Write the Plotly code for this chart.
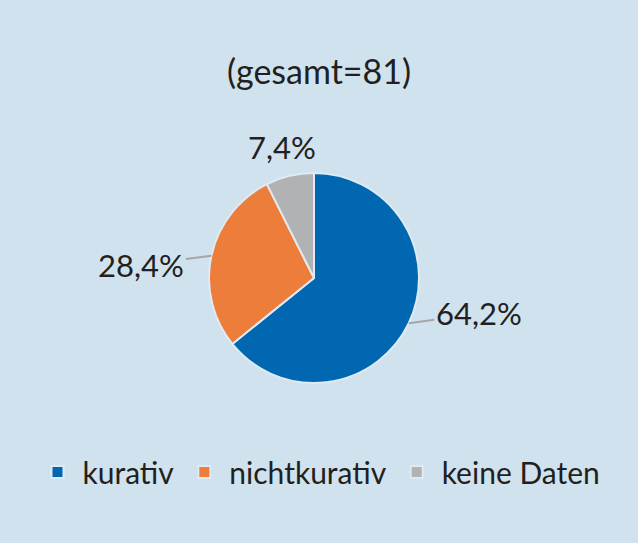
import math
import plotly.graph_objects as go

# Daten
labels = ["kurativ", "nichtkurativ", "keine Daten"]
counts = [52, 23, 6]
label_text = ["64,2%", "28,4%", "7,4%"]
colors = ["#0067b0", "#ed7d3a", "#b1b2b4"]

W, H = 638, 543
cx, cy, r = 314, 278, 105  # Kreismitte und Radius in Pixel

fig = go.Figure(go.Pie(
    labels=labels,
    values=counts,
    sort=False,
    direction="clockwise",
    rotation=0,
    textinfo="none",
    hoverinfo="label+percent",
    marker=dict(colors=colors, line=dict(color="#dfeaf2", width=2)),
    domain=dict(x=[(cx - r) / W, (cx + r) / W],
                y=[1 - (cy + r) / H, 1 - (cy - r) / H]),
))

# Beschriftungen mit Führungslinien
offsets = [(70, -10), (-70, 9), (-8, -29)]
arrows = [True, True, False]
total = sum(counts)
start = 0
for txt, v, (ax, ay), arr in zip(label_text, counts, offsets, arrows):
    mid = (start + v / 2) / total * 2 * math.pi
    start += v
    px = cx + r * math.sin(mid)
    py = cy - r * math.cos(mid)
    fig.add_annotation(
        x=px / W, y=1 - py / H, xref="paper", yref="paper",
        text=txt, showarrow=True, arrowhead=0, arrowwidth=2,
        arrowcolor="#a6a6a6" if arr else "rgba(0,0,0,0)",
        ax=ax, ay=ay, standoff=0,
        font=dict(size=31, color="#231f20"),
    )

fig.update_layout(
    width=W, height=H,
    margin=dict(l=0, r=0, t=0, b=0),
    paper_bgcolor="#cfe2ee",
    font=dict(family="Lato, sans-serif", color="#231f20"),
    title=dict(text="(gesamt=81)", x=0.5, xanchor="center", y=1 - 72 / H, yanchor="middle",
               font=dict(size=34, color="#231f20")),
    legend=dict(orientation="h", x=0.5, xanchor="center", y=1 - 472 / H, yanchor="middle",
                font=dict(size=30, color="#231f20"), itemwidth=40, traceorder="normal"),
)

fig.write_html("out.html", config={"displayModeBar": False},
               post_script="document.body.style.margin='0';")
